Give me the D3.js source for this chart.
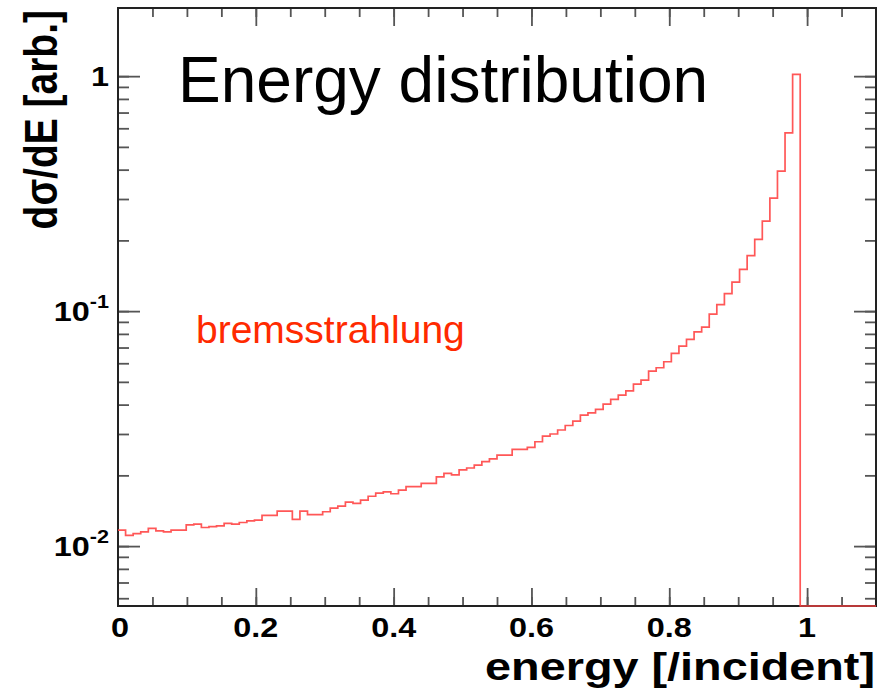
<!DOCTYPE html>
<html>
<head>
<meta charset="utf-8">
<script src="https://cdn.jsdelivr.net/npm/d3@7"></script>
<style>
  html, body { margin: 0; padding: 0; background: #fff; }
  svg { display: block; }
</style>
</head>
<body>
<svg id="chart"></svg>
<script>
// histogram binning (0 .. 1.1 in 100 bins)
const binLow = 0
const binHigh = 1.1
const nBins = 100

// bin contents (arb. units)
const binValues = [
    0.0117, 0.0111, 0.0113, 0.0115, 0.0119, 0.0116, 0.0115, 0.0117, 0.0117, 0.0123,
    0.0124, 0.0120, 0.0121, 0.0122, 0.0125, 0.0124, 0.0126, 0.0128, 0.0129, 0.0135,
    0.0135, 0.0141, 0.0141, 0.0130, 0.0141, 0.0136, 0.0136, 0.0140, 0.0145, 0.0148,
    0.0154, 0.0152, 0.0157, 0.0163, 0.0168, 0.0170, 0.0167, 0.0173, 0.0179, 0.0179,
    0.0185, 0.0185, 0.0197, 0.0204, 0.0201, 0.0211, 0.0215, 0.0221, 0.0229, 0.0235,
    0.0244, 0.0244, 0.0258, 0.0258, 0.0263, 0.0278, 0.0294, 0.0300, 0.0312, 0.0326,
    0.0340, 0.0361, 0.0369, 0.0382, 0.0402, 0.0421, 0.0439, 0.0458, 0.0489, 0.0509,
    0.0556, 0.0574, 0.0609, 0.0661, 0.0710, 0.0758, 0.0816, 0.0855, 0.0971, 0.1066,
    0.1188, 0.1328, 0.1505, 0.1722, 0.2019, 0.2415, 0.3027, 0.3942, 0.5738, 1.017,
    0, 0, 0, 0, 0, 0, 0, 0, 0, 0
]

// axis labels
const xTickValues = [0, 0.2, 0.4, 0.6, 0.8, 1]
const xTickLabels = ["0", "0.2", "0.4", "0.6", "0.8", "1"]
const yTickValues = [1, 0.1, 0.01]
const yTickBase = ["1", "10", "10"]
const yTickExp = ["", "-1", "-2"]

const titleText = "Energy distribution"
const seriesLabel = "bremsstrahlung"
const xTitle = "energy [/incident]"
const yTitle = "d\u03c3/dE [arb.]"

const dimensions = {
    width: 758,
    height: 598,
    margin: {left: 118, top: 8, right: 18, bottom: 84}
}

// ROOT output looks horizontally stretched, so axis texts get a wider aspect
const stretch = 1.2
const boldFont = "'Liberation Sans', Arial, Helvetica, sans-serif"

const svg = d3.select('#chart')
    .attr('width', 894)
    .attr('height', 690)

const graph = svg.append('g')
    .attr('transform', `translate(${dimensions.margin.left}, ${dimensions.margin.top})`)

const xScale = d3.scaleLinear()
    .domain([binLow, binHigh])
    .range([0, dimensions.width])

const yScale = d3.scaleLog()
    .domain([0.00556, 1.95])
    .range([dimensions.height, 0])

// clip the histogram to the frame
svg.append('defs').append('clipPath')
    .attr('id', 'frameClip')
    .append('rect')
    .attr('y', -2)
    .attr('width', dimensions.width)
    .attr('height', dimensions.height + 3)

// tick positions
const xMinor = d3.range(0, 22).map(i => +(i * 0.05).toFixed(2)).filter(v => v > 0 && v < binHigh)
const xMajor = xMinor.filter(v => Math.abs(v / 0.2 - Math.round(v / 0.2)) < 1e-6)
const yMinor = []
for (let k = -3; k <= 0; k++) {
    for (let m = 1; m <= 9; m++) {
        const v = m * Math.pow(10, k)
        if (v > yScale.domain()[0] && v < yScale.domain()[1]) yMinor.push(v)
    }
}

const tickColor = '#555'
const addTicks = (axis, values, size, transform) => {
    const g = graph.append('g')
        .attr('transform', transform)
        .call(axis.tickValues(values).tickSize(size).tickFormat(''))
    g.select('.domain').remove()
    g.selectAll('line').attr('stroke', tickColor).attr('stroke-width', 1.8)
}

// bottom & top ticks pointing into the frame
addTicks(d3.axisTop(xScale), xMinor, 9, `translate(0, ${dimensions.height})`)
addTicks(d3.axisTop(xScale), xMajor, 18, `translate(0, ${dimensions.height})`)
addTicks(d3.axisBottom(xScale), xMinor, 9, 'translate(0, 0)')
addTicks(d3.axisBottom(xScale), xMajor, 18, 'translate(0, 0)')
// left & right ticks
addTicks(d3.axisRight(yScale), yMinor, 11, 'translate(0, 0)')
addTicks(d3.axisRight(yScale), yTickValues, 22, 'translate(0, 0)')
addTicks(d3.axisLeft(yScale), yMinor, 11, `translate(${dimensions.width}, 0)`)
addTicks(d3.axisLeft(yScale), yTickValues, 22, `translate(${dimensions.width}, 0)`)

// frame
graph.append('rect')
    .attr('width', dimensions.width)
    .attr('height', dimensions.height)
    .attr('fill', 'none')
    .attr('stroke', '#222')
    .attr('stroke-width', 2)

// histogram as a step line: left edge of each bin + the last right edge
const binWidth = (binHigh - binLow) / nBins
const histPoints = binValues.map((v, i) => ({x: binLow + i * binWidth, v: v}))
histPoints.push({x: binHigh, v: binValues[binValues.length - 1]})

const histLine = d3.line()
    .x(d => xScale(d.x))
    .y(d => d.v > 0 ? yScale(d.v) : dimensions.height)
    .curve(d3.curveStepAfter)

graph.append('path')
    .datum(histPoints)
    .attr('clip-path', 'url(#frameClip)')
    .attr('fill', 'none')
    .attr('stroke', '#ff4545')
    .attr('stroke-width', 1.7)
    .attr('stroke-opacity', 0.9)
    .attr('d', histLine)

// x tick labels
graph.selectAll('.xLabel')
    .data(xTickValues)
    .enter().append('g')
    .attr('class', 'xLabel')
    .attr('transform', d => `translate(${xScale(d) + (d === 0 ? 2 : 0)}, ${dimensions.height + 31}) scale(${stretch}, 1)`)
    .append('text')
    .attr('text-anchor', 'middle')
    .attr('font-family', boldFont)
    .attr('font-weight', 'bold')
    .attr('font-size', 27)
    .attr('fill', '#000')
    .text((d, i) => xTickLabels[i])

// y tick labels with exponents
const yLabels = graph.selectAll('.yLabel')
    .data(yTickValues)
    .enter().append('g')
    .attr('class', 'yLabel')
    .attr('transform', d => `translate(-9, ${yScale(d) + 10}) scale(${stretch}, 1)`)
    .append('text')
    .attr('text-anchor', 'end')
    .attr('font-family', boldFont)
    .attr('font-weight', 'bold')
    .attr('font-size', 27)
    .attr('fill', '#000')

yLabels.append('tspan').text((d, i) => yTickBase[i])
yLabels.append('tspan')
    .attr('font-size', 18)
    .attr('dy', -13)
    .text((d, i) => yTickExp[i])

// axis titles
svg.append('g')
    .attr('transform', `translate(875, 680) scale(${stretch}, 1)`)
    .append('text')
    .attr('text-anchor', 'end')
    .attr('font-family', boldFont)
    .attr('font-weight', 'bold')
    .attr('font-size', 39)
    .attr('fill', '#000')
    .text(xTitle)

svg.append('g')
    .attr('transform', `translate(57, 10) scale(${stretch}, 1) rotate(-90)`)
    .append('text')
    .attr('text-anchor', 'end')
    .attr('font-family', boldFont)
    .attr('font-weight', 'bold')
    .attr('font-size', 39)
    .attr('fill', '#000')
    .text(yTitle)

// overlaid title and series label
svg.append('text')
    .attr('x', 178)
    .attr('y', 102)
    .attr('font-family', "'Liberation Sans', Arial, Helvetica, sans-serif")
    .attr('font-size', 64)
    .attr('fill', '#000')
    .text(titleText)

svg.append('text')
    .attr('x', 196)
    .attr('y', 343)
    .attr('font-family', "'Liberation Sans', Arial, Helvetica, sans-serif")
    .attr('font-size', 39)
    .attr('fill', '#ff2a00')
    .text(seriesLabel)
</script>
</body>
</html>
